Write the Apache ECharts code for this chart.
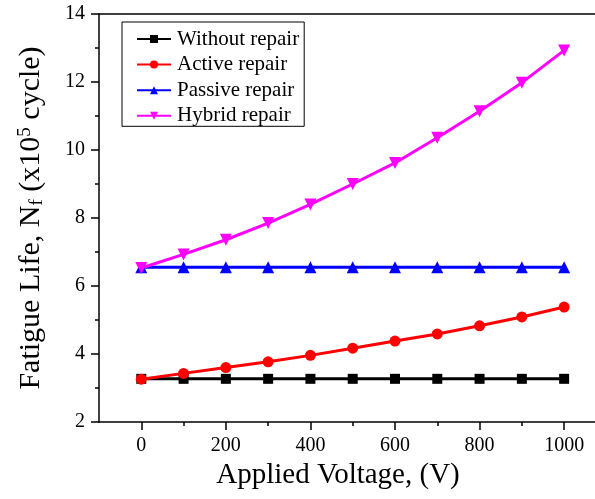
<!DOCTYPE html>
<html>
<head>
<meta charset="utf-8">
<script src="https://cdn.jsdelivr.net/npm/echarts@6/dist/echarts.min.js"></script>
<style>
  html, body { margin: 0; padding: 0; background: #fff; }
  #chart { width: 595px; height: 499px; }
</style>
</head>
<body>
<div id="chart"></div>
<script>
// Applied voltage (V) and fatigue life (x10^5 cycles) for each repair strategy
var voltage = [0, 100, 200, 300, 400, 500, 600, 700, 800, 900, 1000];
var withoutRepair = [3.27, 3.27, 3.27, 3.27, 3.27, 3.27, 3.27, 3.27, 3.27, 3.27, 3.27];
var activeRepair = [3.26, 3.43, 3.60, 3.77, 3.96, 4.17, 4.38, 4.59, 4.83, 5.09, 5.38];
var passiveRepair = [6.55, 6.55, 6.55, 6.55, 6.55, 6.55, 6.55, 6.55, 6.55, 6.55, 6.55];
var hybridRepair = [6.53, 6.93, 7.36, 7.85, 8.40, 9.00, 9.62, 10.36, 11.14, 11.98, 12.93];

var seriesNames = ['Without repair', 'Active repair', 'Passive repair', 'Hybrid repair'];
var xMajorTicks = [0, 200, 400, 600, 800, 1000];
var xMinorTicks = [100, 300, 500, 700, 900];

var FONT = '"Liberation Serif", "Times New Roman", serif';

function pairs(ys) {
  return voltage.map(function (x, i) { return [x, ys[i]]; });
}

var chart = echarts.init(document.getElementById('chart'), null, { renderer: 'canvas' });

function lineSeries(name, data, color, symbol, size) {
  return {
    name: name,
    type: 'line',
    data: pairs(data),
    xAxisIndex: 0,
    yAxisIndex: 0,
    symbol: symbol,
    symbolSize: size,
    showAllSymbol: true,
    lineStyle: { color: color, width: 3 },
    itemStyle: { color: color },
    animation: false
  };
}

var option = {
  backgroundColor: '#ffffff',
  animation: false,
  grid: { left: 99, right: 0, top: 14, bottom: 77, containLabel: false },
  legend: {
    data: seriesNames,
    orient: 'vertical',
    left: 122,
    top: 22,
    itemWidth: 34,
    itemHeight: 10,
    itemGap: 4.6,
    padding: [6.5, 5, 0, 14],
    borderColor: '#000',
    borderWidth: 1,
    backgroundColor: '#fff',
    textStyle: { fontFamily: FONT, fontSize: 21, lineHeight: 21, color: '#000', padding: [0, 0, 0, 1] }
  },
  xAxis: [
    {
      type: 'value',
      min: -100,
      max: 1073,
      position: 'bottom',
      splitLine: { show: false },
      axisLine: { show: true, onZero: false, lineStyle: { color: '#000', width: 1.5 } },
      axisTick: { show: true, inside: false, length: 8, customValues: xMajorTicks, lineStyle: { color: '#000', width: 1.5 } },
      axisLabel: {
        customValues: xMajorTicks,
        margin: 14,
        fontFamily: FONT,
        fontSize: 20,
        color: '#000',
        formatter: function (v) { return String(v); }
      },
      name: 'Applied Voltage, (V)',
      nameLocation: 'middle',
      nameGap: 39,
      nameTextStyle: { fontFamily: FONT, fontSize: 29, color: '#000', padding: [0, 18, 0, 0] }
    },
    {
      // minor ticks between labelled voltages
      type: 'value',
      min: -100,
      max: 1073,
      position: 'bottom',
      splitLine: { show: false },
      axisLine: { show: false, onZero: false },
      axisTick: { show: true, inside: false, length: 4, customValues: xMinorTicks, lineStyle: { color: '#000', width: 1.5 } },
      axisLabel: { show: false, customValues: xMinorTicks }
    },
    {
      // top frame edge
      type: 'value',
      min: -100,
      max: 1073,
      position: 'top',
      splitLine: { show: false },
      axisLine: { show: true, onZero: false, lineStyle: { color: '#000', width: 1.5 } },
      axisTick: { show: false },
      axisLabel: { show: false }
    }
  ],
  yAxis: {
    type: 'value',
    min: 2,
    max: 14,
    interval: 2,
    splitLine: { show: false },
    axisLine: { show: true, onZero: false, lineStyle: { color: '#000', width: 1.5 } },
    axisTick: { show: true, inside: false, length: 8, lineStyle: { color: '#000', width: 1.5 } },
    minorTick: { show: true, splitNumber: 2, length: 4, lineStyle: { color: '#000', width: 1.5 } },
    axisLabel: { margin: 14, fontFamily: FONT, fontSize: 20, color: '#000' },
    name: '{t|Fatigue Life, N}{sub|f}{t| (x10}{sup|5}{t| cycle)}',
    nameLocation: 'middle',
    nameRotate: 90,
    nameGap: 52,
    nameTextStyle: {
      fontFamily: FONT,
      fontSize: 30,
      color: '#000',
      rich: {
        t: { fontFamily: FONT, fontSize: 30, color: '#000', verticalAlign: 'middle' },
        sub: { fontFamily: FONT, fontSize: 19, color: '#000', verticalAlign: 'bottom', padding: [12, 0, 0, 0] },
        sup: { fontFamily: FONT, fontSize: 19, color: '#000', verticalAlign: 'top', padding: [0, 0, 12, 0] }
      }
    }
  },
  series: [
    lineSeries(seriesNames[0], withoutRepair, '#000000', 'rect', 10),
    lineSeries(seriesNames[1], activeRepair, '#ff0000', 'circle', 11),
    lineSeries(seriesNames[2], passiveRepair, '#0000ff', 'triangle', 12),
    lineSeries(seriesNames[3], hybridRepair, '#ff00ff', 'path://M0,0 L10,0 L5,9 Z', 12)
  ]
};

chart.setOption(option);
</script>
</body>
</html>
